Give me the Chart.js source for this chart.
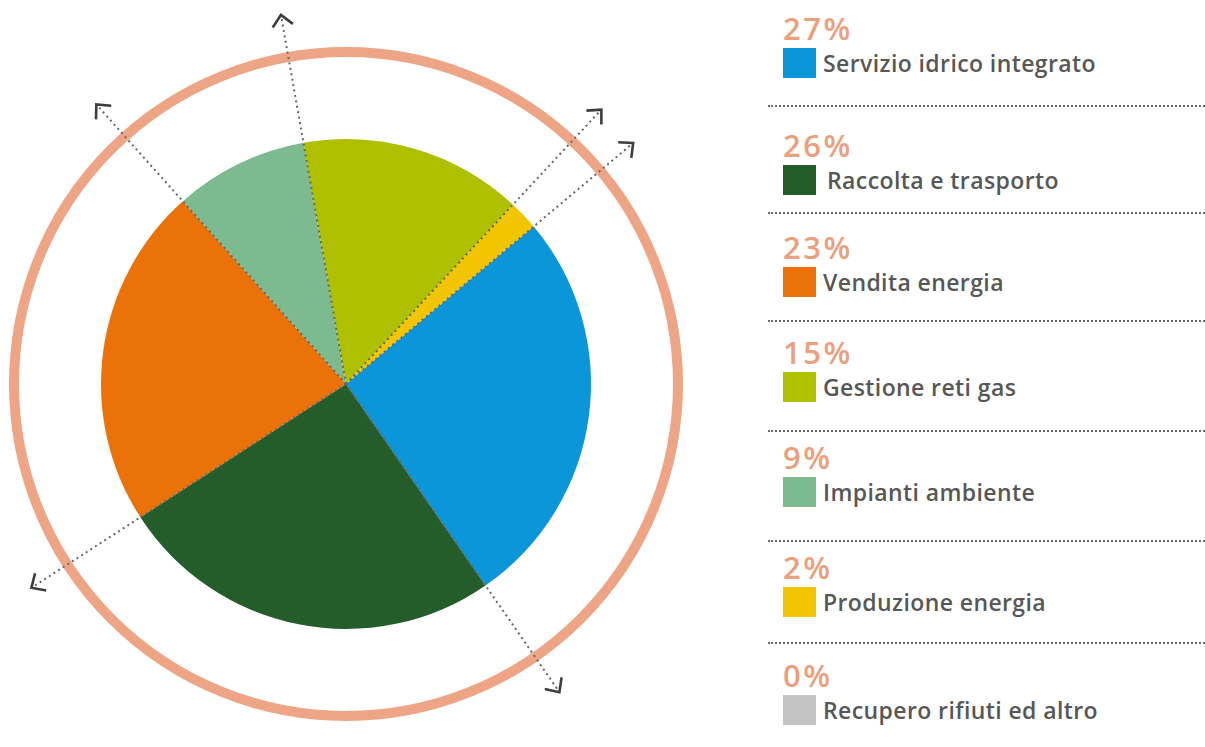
<!DOCTYPE html>
<html>
<head>
<meta charset="utf-8">
<script src="https://cdn.jsdelivr.net/npm/chart.js@4"></script>
<style>
  html,body{margin:0;padding:0;background:#fff;width:1205px;height:747px;overflow:hidden;font-family:"Open Sans","Lato",sans-serif;}
  #wrap{position:absolute;left:0;top:0;width:700px;height:747px;}
  .pct{position:absolute;left:783px;font-size:31px;font-weight:600;color:#EC9F7C;line-height:32px;letter-spacing:2.5px;}
  .row{position:absolute;left:783px;height:30px;display:flex;align-items:center;}
  .sw{width:33px;height:30px;flex:none;}
  .lab{margin-left:7px;font-size:23px;font-weight:600;color:#575757;white-space:nowrap;letter-spacing:0.4px;}
  .sep{position:absolute;left:768px;width:437px;border-top:2px dotted #6a6a6a;height:0;}
</style>
</head>
<body>
<div id="wrap"><canvas id="c" width="700" height="747"></canvas></div>
<div id="legend"></div>
<script>
// ---- data ----
const categories = ["Servizio idrico integrato","Raccolta e trasporto","Vendita energia","Gestione reti gas","Impianti ambiente","Produzione energia","Recupero rifiuti ed altro"];
const values = [27, 26, 23, 15, 9, 2, 0];
const percentLabels = ["27%","26%","23%","15%","9%","2%","0%"];
const colors = ["#0A96D8","#245C2A","#EB7209","#AFC000","#7DBA8F","#F2C500","#C4C4C4"];
// order in which slices appear clockwise in the pie
const pieOrder = [0, 1, 2, 4, 3, 5, 6];

// ---- legend (HTML) ----
const swatchTops = [48, 165, 267, 372, 477, 587, 695];
const sepTops = [105, 212, 320, 430, 540, 642];
const legend = document.getElementById('legend');
categories.forEach((cat, i) => {
  const p = document.createElement('div');
  p.className = 'pct'; p.textContent = percentLabels[i];
  p.style.top = (swatchTops[i] - 36) + 'px';
  legend.appendChild(p);
  const r = document.createElement('div');
  r.className = 'row'; r.style.top = swatchTops[i] + 'px';
  const s = document.createElement('div'); s.className = 'sw'; s.style.background = colors[i];
  const l = document.createElement('div'); l.className = 'lab'; l.textContent = cat;
  if (i === 1) l.style.marginLeft = '11px';
  r.appendChild(s); r.appendChild(l);
  legend.appendChild(r);
});
sepTops.forEach(t => {
  const d = document.createElement('div'); d.className = 'sep'; d.style.top = t + 'px';
  legend.appendChild(d);
});

// ---- decorations plugin: ring + dotted arrows ----
const deco = {
  id: 'deco',
  afterDatasetsDraw(chart) {
    const ctx = chart.ctx;
    const meta = chart.getDatasetMeta(0);
    const arcs = meta.data;
    if (!arcs.length) return;
    const cx = arcs[0].x, cy = arcs[0].y, R = arcs[0].outerRadius;
    // ring
    ctx.save();
    ctx.beginPath();
    ctx.arc(cx, cy, R * 1.355, 0, Math.PI * 2);
    ctx.lineWidth = 10;
    ctx.strokeStyle = '#EDA585';
    ctx.stroke();
    // arrows at each slice boundary
    const angles = [];
    arcs.forEach((a, i) => {
      if (chart.data.datasets[0].data[i] > 0) angles.push(a.startAngle);
    });
    const L = R * 1.53;
    angles.forEach(ang => {
      const ex = cx + Math.cos(ang) * L, ey = cy + Math.sin(ang) * L;
      ctx.beginPath();
      ctx.setLineDash([2, 3.5]);
      ctx.lineWidth = 2;
      ctx.strokeStyle = '#666';
      ctx.moveTo(cx, cy);
      ctx.lineTo(ex, ey);
      ctx.stroke();
      ctx.setLineDash([]);
      // chevron
      const h = 15, spread = 0.75;
      ctx.beginPath();
      ctx.lineWidth = 2.6;
      ctx.strokeStyle = '#3d3d3d';
      ctx.moveTo(ex - Math.cos(ang - spread) * h, ey - Math.sin(ang - spread) * h);
      ctx.lineTo(ex, ey);
      ctx.lineTo(ex - Math.cos(ang + spread) * h, ey - Math.sin(ang + spread) * h);
      ctx.stroke();
    });
    ctx.restore();
  }
};

new Chart(document.getElementById('c'), {
  type: 'pie',
  data: {
    labels: pieOrder.map(i => categories[i]),
    datasets: [{
      data: pieOrder.map(i => values[i]),
      backgroundColor: pieOrder.map(i => colors[i]),
      borderWidth: 0
    }]
  },
  options: {
    responsive: false,
    animation: false,
    rotation: 50,
    layout: { padding: { left: 101, right: 109, top: 139, bottom: 118 } },
    plugins: { legend: { display: false }, tooltip: { enabled: false } }
  },
  plugins: [deco]
});
</script>
</body>
</html>
